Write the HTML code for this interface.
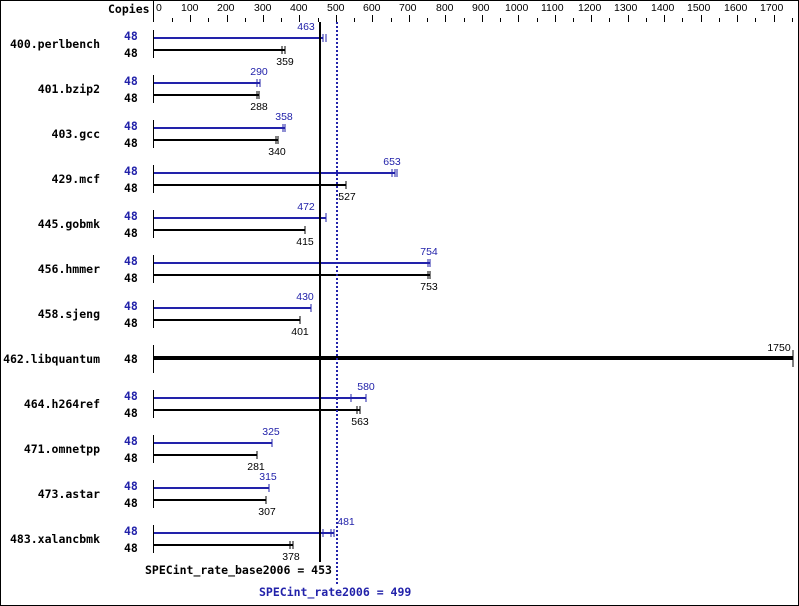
<!DOCTYPE html>
<html><head><meta charset="utf-8"><style>
html,body{margin:0;padding:0;background:#fff}
svg{display:block}
.n{font-family:"DejaVu Sans Mono","Liberation Mono",monospace;font-weight:bold;font-size:11.5px;fill:#000}
.c{font-family:"DejaVu Sans Mono","Liberation Mono",monospace;font-weight:bold;font-size:11.5px}
.v{font-family:"Liberation Sans",sans-serif;font-size:10.5px}
.ax{font-family:"Liberation Sans",sans-serif;font-size:10.5px;fill:#000}
</style></head><body>
<svg width="799" height="606" viewBox="0 0 799 606" xmlns="http://www.w3.org/2000/svg">
<rect x="0.5" y="0.5" width="798" height="605" fill="#fff" stroke="#000"/>
<text class="n" x="108" y="13">Copies</text>
<line x1="153.5" y1="0" x2="153.5" y2="22" stroke="#000"/>
<g class="ax" text-anchor="start">
<text x="156" y="11">0</text><text x="181" y="11">100</text><text x="217" y="11">200</text><text x="254" y="11">300</text><text x="290" y="11">400</text><text x="327" y="11">500</text><text x="363" y="11">600</text><text x="399" y="11">700</text><text x="436" y="11">800</text><text x="472" y="11">900</text><text x="505" y="11">1000</text><text x="541" y="11">1100</text><text x="578" y="11">1200</text><text x="614" y="11">1300</text><text x="651" y="11">1400</text><text x="687" y="11">1500</text><text x="724" y="11">1600</text><text x="760" y="11">1700</text>
</g>
<g stroke="#000">
<line x1="172.5" y1="18" x2="172.5" y2="22"/><line x1="190.5" y1="15" x2="190.5" y2="22"/>
<line x1="208.5" y1="18" x2="208.5" y2="22"/><line x1="227.5" y1="15" x2="227.5" y2="22"/>
<line x1="245.5" y1="18" x2="245.5" y2="22"/><line x1="263.5" y1="15" x2="263.5" y2="22"/>
<line x1="281.5" y1="18" x2="281.5" y2="22"/><line x1="299.5" y1="15" x2="299.5" y2="22"/>
<line x1="318.5" y1="18" x2="318.5" y2="22"/><line x1="336.5" y1="15" x2="336.5" y2="22"/>
<line x1="354.5" y1="18" x2="354.5" y2="22"/><line x1="372.5" y1="15" x2="372.5" y2="22"/>
<line x1="391.5" y1="18" x2="391.5" y2="22"/><line x1="409.5" y1="15" x2="409.5" y2="22"/>
<line x1="427.5" y1="18" x2="427.5" y2="22"/><line x1="445.5" y1="15" x2="445.5" y2="22"/>
<line x1="464.5" y1="18" x2="464.5" y2="22"/><line x1="482.5" y1="15" x2="482.5" y2="22"/>
<line x1="500.5" y1="18" x2="500.5" y2="22"/><line x1="518.5" y1="15" x2="518.5" y2="22"/>
<line x1="537.5" y1="18" x2="537.5" y2="22"/><line x1="555.5" y1="15" x2="555.5" y2="22"/>
<line x1="573.5" y1="18" x2="573.5" y2="22"/><line x1="591.5" y1="15" x2="591.5" y2="22"/>
<line x1="609.5" y1="18" x2="609.5" y2="22"/><line x1="628.5" y1="15" x2="628.5" y2="22"/>
<line x1="646.5" y1="18" x2="646.5" y2="22"/><line x1="664.5" y1="15" x2="664.5" y2="22"/>
<line x1="682.5" y1="18" x2="682.5" y2="22"/><line x1="701.5" y1="15" x2="701.5" y2="22"/>
<line x1="719.5" y1="18" x2="719.5" y2="22"/><line x1="737.5" y1="15" x2="737.5" y2="22"/>
<line x1="755.5" y1="18" x2="755.5" y2="22"/><line x1="774.5" y1="15" x2="774.5" y2="22"/>
<line x1="792.5" y1="18" x2="792.5" y2="22"/>
</g>

<g class="n" text-anchor="end">
<text x="100" y="48">400.perlbench</text>
<text x="100" y="93">401.bzip2</text>
<text x="100" y="138">403.gcc</text>
<text x="100" y="183">429.mcf</text>
<text x="100" y="228">445.gobmk</text>
<text x="100" y="273">456.hmmer</text>
<text x="100" y="318">458.sjeng</text>
<text x="100" y="363">462.libquantum</text>
<text x="100" y="408">464.h264ref</text>
<text x="100" y="453">471.omnetpp</text>
<text x="100" y="498">473.astar</text>
<text x="100" y="543">483.xalancbmk</text>
</g>
<g class="c" fill="#2222aa">
<text x="124" y="40">48</text><text x="124" y="85">48</text><text x="124" y="130">48</text><text x="124" y="175">48</text><text x="124" y="220">48</text><text x="124" y="265">48</text><text x="124" y="310">48</text><text x="124" y="400">48</text><text x="124" y="445">48</text><text x="124" y="490">48</text><text x="124" y="535">48</text>
</g>
<g class="c" fill="#000">
<text x="124" y="57">48</text><text x="124" y="102">48</text><text x="124" y="147">48</text><text x="124" y="192">48</text><text x="124" y="237">48</text><text x="124" y="282">48</text><text x="124" y="327">48</text><text x="124" y="363">48</text><text x="124" y="417">48</text><text x="124" y="462">48</text><text x="124" y="507">48</text><text x="124" y="552">48</text>
</g>

<g stroke="#000">
<line x1="153.5" y1="30" x2="153.5" y2="58"/><line x1="153.5" y1="75" x2="153.5" y2="103"/>
<line x1="153.5" y1="120" x2="153.5" y2="148"/><line x1="153.5" y1="165" x2="153.5" y2="193"/>
<line x1="153.5" y1="210" x2="153.5" y2="238"/><line x1="153.5" y1="255" x2="153.5" y2="283"/>
<line x1="153.5" y1="300" x2="153.5" y2="328"/><line x1="153.5" y1="345" x2="153.5" y2="373"/>
<line x1="153.5" y1="390" x2="153.5" y2="418"/><line x1="153.5" y1="435" x2="153.5" y2="463"/>
<line x1="153.5" y1="480" x2="153.5" y2="508"/><line x1="153.5" y1="525" x2="153.5" y2="553"/>
</g>

<g stroke="#2222aa" stroke-width="2" fill="none">
<line x1="154" y1="38" x2="323" y2="38"/><line x1="323" y1="34" x2="323" y2="42" stroke-width="1"/><line x1="326" y1="34" x2="326" y2="42" stroke-width="1"/><line x1="320" y1="34" x2="320" y2="42" stroke-width="1"/>
<line x1="154" y1="83" x2="260" y2="83"/><line x1="260" y1="79" x2="260" y2="87" stroke-width="1"/><line x1="257" y1="79" x2="257" y2="87" stroke-width="1"/>
<line x1="154" y1="128" x2="285" y2="128"/><line x1="285" y1="124" x2="285" y2="132" stroke-width="1"/><line x1="283" y1="124" x2="283" y2="132" stroke-width="1"/>
<line x1="154" y1="173" x2="395" y2="173"/><line x1="395" y1="169" x2="395" y2="177" stroke-width="1"/><line x1="392" y1="169" x2="392" y2="177" stroke-width="1"/><line x1="397" y1="169" x2="397" y2="177" stroke-width="1"/>
<line x1="154" y1="218" x2="326" y2="218"/><line x1="326" y1="213" x2="326" y2="222" stroke-width="1"/>
<line x1="154" y1="263" x2="430" y2="263"/><line x1="430" y1="259" x2="430" y2="267" stroke-width="1"/><line x1="428" y1="259" x2="428" y2="267" stroke-width="1"/>
<line x1="154" y1="308" x2="311" y2="308"/><line x1="311" y1="304" x2="311" y2="312" stroke-width="1"/>
<line x1="154" y1="398" x2="366" y2="398"/><line x1="366" y1="394" x2="366" y2="402" stroke-width="1"/><line x1="351" y1="394" x2="351" y2="402" stroke-width="1"/>
<line x1="154" y1="443" x2="272" y2="443"/><line x1="272" y1="439" x2="272" y2="447" stroke-width="1"/>
<line x1="154" y1="488" x2="269" y2="488"/><line x1="269" y1="484" x2="269" y2="492" stroke-width="1"/>
<line x1="154" y1="533" x2="334" y2="533"/><line x1="334" y1="529" x2="334" y2="537" stroke-width="1"/><line x1="331" y1="529" x2="331" y2="537" stroke-width="1"/><line x1="323" y1="529" x2="323" y2="537" stroke-width="1"/>
</g>
<g stroke="#000" stroke-width="2" fill="none">
<line x1="154" y1="50" x2="285" y2="50"/><line x1="285" y1="46" x2="285" y2="54" stroke-width="1"/><line x1="282" y1="46" x2="282" y2="54" stroke-width="1"/>
<line x1="154" y1="95" x2="259" y2="95"/><line x1="259" y1="91" x2="259" y2="99" stroke-width="1"/><line x1="257" y1="91" x2="257" y2="99" stroke-width="1"/>
<line x1="154" y1="140" x2="278" y2="140"/><line x1="278" y1="136" x2="278" y2="144" stroke-width="1"/><line x1="276" y1="136" x2="276" y2="144" stroke-width="1"/>
<line x1="154" y1="185" x2="346" y2="185"/><line x1="346" y1="181" x2="346" y2="189" stroke-width="1"/>
<line x1="154" y1="230" x2="305" y2="230"/><line x1="305" y1="226" x2="305" y2="234" stroke-width="1"/>
<line x1="154" y1="275" x2="430" y2="275"/><line x1="430" y1="271" x2="430" y2="279" stroke-width="1"/><line x1="428" y1="271" x2="428" y2="279" stroke-width="1"/>
<line x1="154" y1="320" x2="300" y2="320"/><line x1="300" y1="316" x2="300" y2="324" stroke-width="1"/>
<line x1="154" y1="410" x2="360" y2="410"/><line x1="360" y1="406" x2="360" y2="414" stroke-width="1"/><line x1="357" y1="406" x2="357" y2="414" stroke-width="1"/>
<line x1="154" y1="455" x2="257" y2="455"/><line x1="257" y1="451" x2="257" y2="459" stroke-width="1"/>
<line x1="154" y1="500" x2="266" y2="500"/><line x1="266" y1="496" x2="266" y2="504" stroke-width="1"/>
<line x1="154" y1="545" x2="293" y2="545"/><line x1="293" y1="541" x2="293" y2="549" stroke-width="1"/><line x1="290" y1="541" x2="290" y2="549" stroke-width="1"/>
<line x1="154" y1="358" x2="793" y2="358" stroke-width="4"/><line x1="793" y1="350" x2="793" y2="367" stroke-width="1"/>
</g>

<line x1="320" y1="22" x2="320" y2="562" stroke="#000" stroke-width="2"/>
<line x1="337" y1="22" x2="337" y2="584" stroke="#2222aa" stroke-width="2" stroke-dasharray="2,2"/>

<g class="v" fill="#2222aa" text-anchor="middle">
<text x="306" y="30">463</text><text x="259" y="75">290</text><text x="284" y="120">358</text><text x="392" y="165">653</text><text x="306" y="210">472</text><text x="429" y="255">754</text><text x="305" y="300">430</text><text x="366" y="390">580</text><text x="271" y="435">325</text><text x="268" y="480">315</text><text x="346" y="525">481</text>
</g>
<g class="v" fill="#000" text-anchor="middle">
<text x="285" y="65">359</text><text x="259" y="110">288</text><text x="277" y="155">340</text><text x="347" y="200">527</text><text x="305" y="245">415</text><text x="429" y="290">753</text><text x="300" y="335">401</text><text x="779" y="351">1750</text><text x="360" y="425">563</text><text x="256" y="470">281</text><text x="267" y="515">307</text><text x="291" y="560">378</text>
</g>

<text class="n" x="145" y="574">SPECint_rate_base2006 = 453</text>
<text class="n" x="259" y="596" style="fill:#2222aa">SPECint_rate2006 = 499</text>
</svg>
</body></html>
